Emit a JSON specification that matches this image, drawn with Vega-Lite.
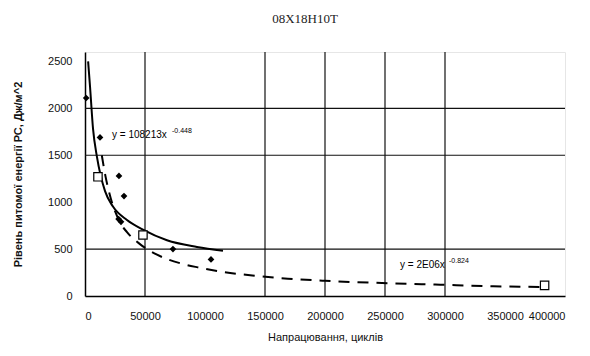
{
  "$schema": "https://vega.github.io/schema/vega-lite/v6.json",
  "width": 480,
  "height": 244,
  "autosize": "none",
  "padding": {"left": 85, "top": 52, "right": 25, "bottom": 60},
  "background": "white",
  "config": {
    "view": {"stroke": "#e6e6e6"},
    "font": "Liberation Sans"
  },
  "title": {
    "text": "08X18H10T",
    "font": "Liberation Serif",
    "fontSize": 13,
    "fontWeight": "normal",
    "color": "#222",
    "anchor": "middle",
    "dx": -20,
    "offset": 25
  },
  "datasets": {
    "pts": [
      {"x": 1000, "y": 2110, "s": "a"},
      {"x": 12500, "y": 1690, "s": "a"},
      {"x": 28300, "y": 1280, "s": "a"},
      {"x": 32500, "y": 1065, "s": "a"},
      {"x": 28000, "y": 820, "s": "a"},
      {"x": 30000, "y": 790, "s": "a"},
      {"x": 73300, "y": 500, "s": "a"},
      {"x": 105000, "y": 390, "s": "a"},
      {"x": 10800, "y": 1270, "s": "b"},
      {"x": 48300, "y": 650, "s": "b"},
      {"x": 383000, "y": 113, "s": "b"}
    ],
    "solid": [
      {"x": 2600, "y": 2500},
      {"x": 4200, "y": 2230},
      {"x": 6700, "y": 1780},
      {"x": 10000, "y": 1480},
      {"x": 16700, "y": 1117},
      {"x": 23300, "y": 953},
      {"x": 35000, "y": 810},
      {"x": 48300, "y": 707},
      {"x": 68300, "y": 594},
      {"x": 93300, "y": 523},
      {"x": 115000, "y": 482}
    ],
    "dashed": [
      {"x": 14000, "y": 1500},
      {"x": 17000, "y": 1280},
      {"x": 20000, "y": 1110},
      {"x": 29000, "y": 790},
      {"x": 35000, "y": 680},
      {"x": 45800, "y": 553},
      {"x": 60000, "y": 440},
      {"x": 79000, "y": 350},
      {"x": 94000, "y": 305},
      {"x": 121000, "y": 246},
      {"x": 143000, "y": 215},
      {"x": 169000, "y": 185},
      {"x": 200000, "y": 162},
      {"x": 243000, "y": 140},
      {"x": 296000, "y": 120},
      {"x": 340000, "y": 104},
      {"x": 383000, "y": 95}
    ],
    "vgrid": [{"x": 50000}, {"x": 150000}, {"x": 200000}, {"x": 250000}, {"x": 300000}],
    "hgrid": [{"y": 500}, {"y": 1500}, {"y": 2000}],
    "labels": [
      {"x": 22500, "y": 1712, "eq": "y = 108213x", "exp": "-0.448", "k": "a"},
      {"x": 262500, "y": 328, "eq": "y = 2E06x", "exp": "-0.824", "k": "b"}
    ]
  },
  "layer": [
    {
      "data": {"name": "vgrid"},
      "mark": {"type": "rule", "color": "#111", "strokeWidth": 1.2},
      "encoding": {
        "x": {"field": "x", "type": "quantitative", "scale": {"domain": [0, 400000]},
          "axis": {"values": [0, 50000, 100000, 150000, 200000, 250000, 300000, 350000, 400000], "format": "d", "title": "Напрацювання, циклів",
            "grid": false, "ticks": false, "domainColor": "#000", "domainWidth": 1.5, "labelFontSize": 11, "labelColor": "#111", "labelPadding": 14,
            "titleFontSize": 11, "titleFontWeight": "normal", "titleColor": "#111", "titlePadding": 10}}
      }
    },
    {
      "data": {"name": "hgrid"},
      "mark": {"type": "rule", "color": "#111", "strokeWidth": 1.2},
      "encoding": {
        "y": {"field": "y", "type": "quantitative", "scale": {"domain": [0, 2500]},
          "axis": {"values": [0, 500, 1000, 1500, 2000, 2500], "format": "d", "title": "Рівень питомої енергії РС, Дж/м^2",
            "grid": false, "ticks": false, "domainColor": "#000", "domainWidth": 1.5, "labelFontSize": 11, "labelColor": "#111", "labelPadding": 13,
            "titleFontSize": 11, "titleFontWeight": "bold", "titleColor": "#111", "titlePadding": 24}}
      }
    },
    {
      "data": {"name": "solid"},
      "mark": {"type": "line", "color": "#000", "strokeWidth": 2, "interpolate": "monotone"},
      "encoding": {
        "x": {"field": "x", "type": "quantitative"},
        "y": {"field": "y", "type": "quantitative"}
      }
    },
    {
      "data": {"name": "dashed"},
      "mark": {"type": "line", "color": "#000", "strokeWidth": 2, "strokeDash": [11, 8], "interpolate": "monotone"},
      "encoding": {
        "x": {"field": "x", "type": "quantitative"},
        "y": {"field": "y", "type": "quantitative"}
      }
    },
    {
      "data": {"name": "pts"},
      "transform": [{"filter": "datum.s == 'a'"}],
      "mark": {"type": "point", "shape": "diamond", "filled": true, "color": "#000", "size": 45, "opacity": 1},
      "encoding": {
        "x": {"field": "x", "type": "quantitative"},
        "y": {"field": "y", "type": "quantitative"}
      }
    },
    {
      "data": {"name": "pts"},
      "transform": [{"filter": "datum.s == 'b'"}],
      "mark": {"type": "point", "shape": "square", "filled": false, "stroke": "#000", "fill": "white", "fillOpacity": 1, "strokeWidth": 1.2, "size": 70, "opacity": 1},
      "encoding": {
        "x": {"field": "x", "type": "quantitative"},
        "y": {"field": "y", "type": "quantitative"}
      }
    },
    {
      "data": {"name": "labels"},
      "mark": {"type": "text", "align": "left", "baseline": "middle", "fontSize": 10, "color": "#000"},
      "encoding": {
        "x": {"field": "x", "type": "quantitative"},
        "y": {"field": "y", "type": "quantitative"},
        "text": {"field": "eq"}
      }
    },
    {
      "data": {"name": "labels"},
      "transform": [{"filter": "datum.k == 'a'"}],
      "mark": {"type": "text", "align": "left", "baseline": "middle", "fontSize": 7, "color": "#000", "dx": 60, "dy": -4},
      "encoding": {
        "x": {"field": "x", "type": "quantitative"},
        "y": {"field": "y", "type": "quantitative"},
        "text": {"field": "exp"}
      }
    },
    {
      "data": {"name": "labels"},
      "transform": [{"filter": "datum.k == 'b'"}],
      "mark": {"type": "text", "align": "left", "baseline": "middle", "fontSize": 7, "color": "#000", "dx": 49, "dy": -4},
      "encoding": {
        "x": {"field": "x", "type": "quantitative"},
        "y": {"field": "y", "type": "quantitative"},
        "text": {"field": "exp"}
      }
    }
  ]
}
